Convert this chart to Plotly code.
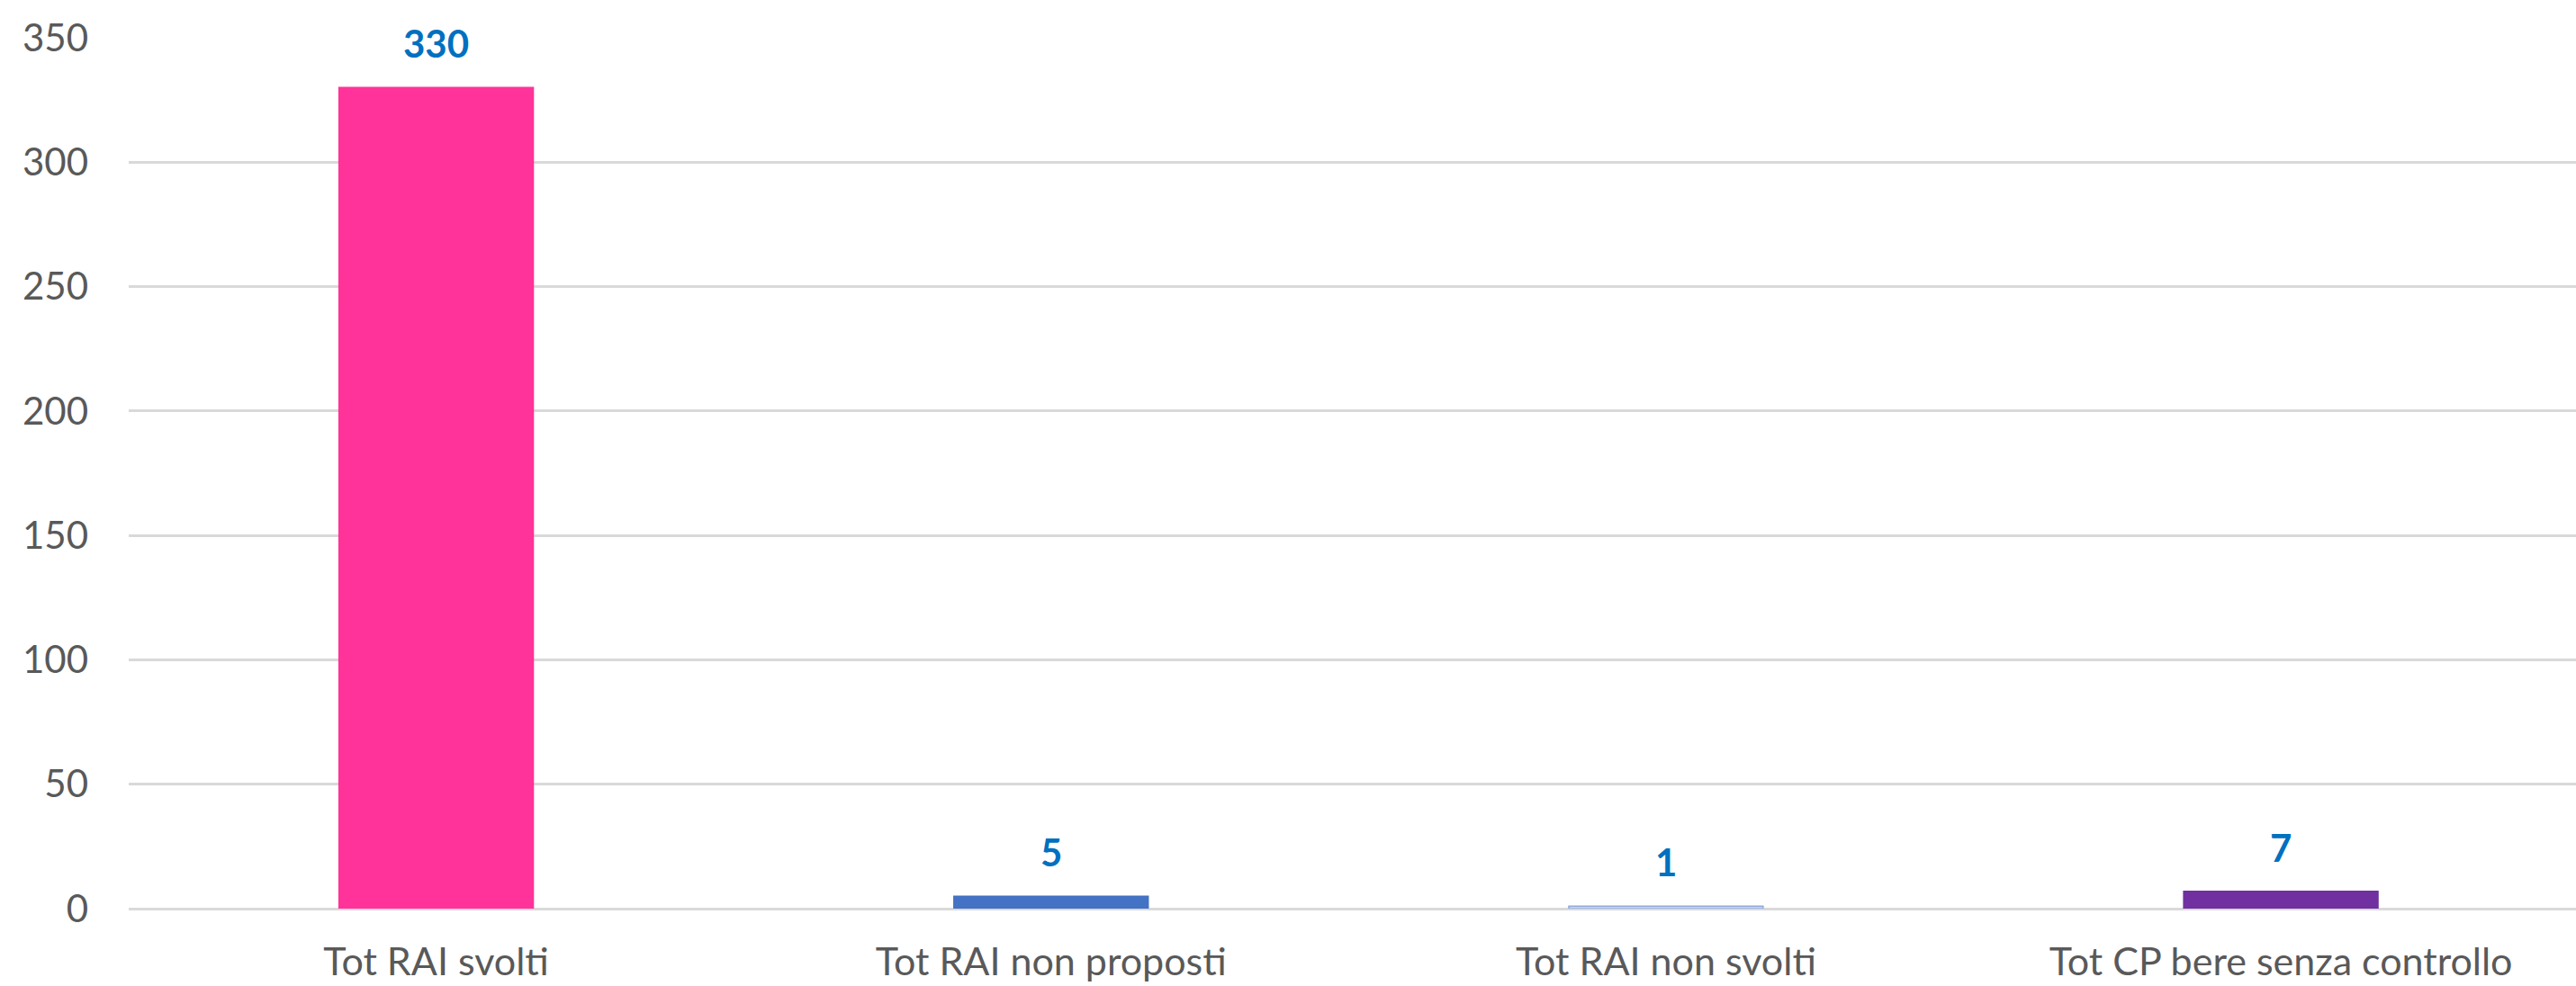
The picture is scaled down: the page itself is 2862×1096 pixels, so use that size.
import plotly.graph_objects as go

categories = ["Tot RAI svolti", "Tot RAI non proposti", "Tot RAI non svolti", "Tot CP bere senza controllo"]
values = [330, 5, 1, 7]
bar_colors = ["#FF3399", "#4472C4", "#C9D6EE", "#7030A0"]
line_colors = ["#FF3399", "#4472C4", "#8FAADC", "#7030A0"]
y_ticks = [0, 50, 100, 150, 200, 250, 300, 350]

FONT = "Lato"

fig = go.Figure()
fig.add_trace(go.Bar(
    x=categories,
    y=values,
    width=0.316,
    marker=dict(color=bar_colors, line=dict(color=line_colors, width=1.5)),
    hoverinfo="skip",
))

for c, v in zip(categories, values):
    fig.add_annotation(
        x=c, y=v, text=f"<b>{v}</b>", showarrow=False,
        yanchor="bottom", yshift=22,
        font=dict(family=FONT, size=42, color="#0070C0"),
    )

fig.update_layout(
    width=2862, height=1096,
    margin=dict(l=143, r=0, t=42, b=86),
    paper_bgcolor="white", plot_bgcolor="white",
    showlegend=False,
    font=dict(family=FONT, color="#595959", size=42),
)
fig.update_xaxes(
    type="category",
    range=[-0.5, 3.48],
    showgrid=False, showline=False, zeroline=False,
    ticks="", ticklabelstandoff=30,
    tickfont=dict(family=FONT, size=43, color="#595959"),
)
fig.update_yaxes(
    range=[0, 350],
    tickvals=y_ticks,
    showgrid=True, gridcolor="#D9D9D9", gridwidth=3,
    zeroline=True, zerolinecolor="#D9D9D9", zerolinewidth=3,
    showline=False, ticks="", ticklabelstandoff=44,
    tickfont=dict(family=FONT, size=42, color="#595959"),
)

fig.write_html("out.html")
